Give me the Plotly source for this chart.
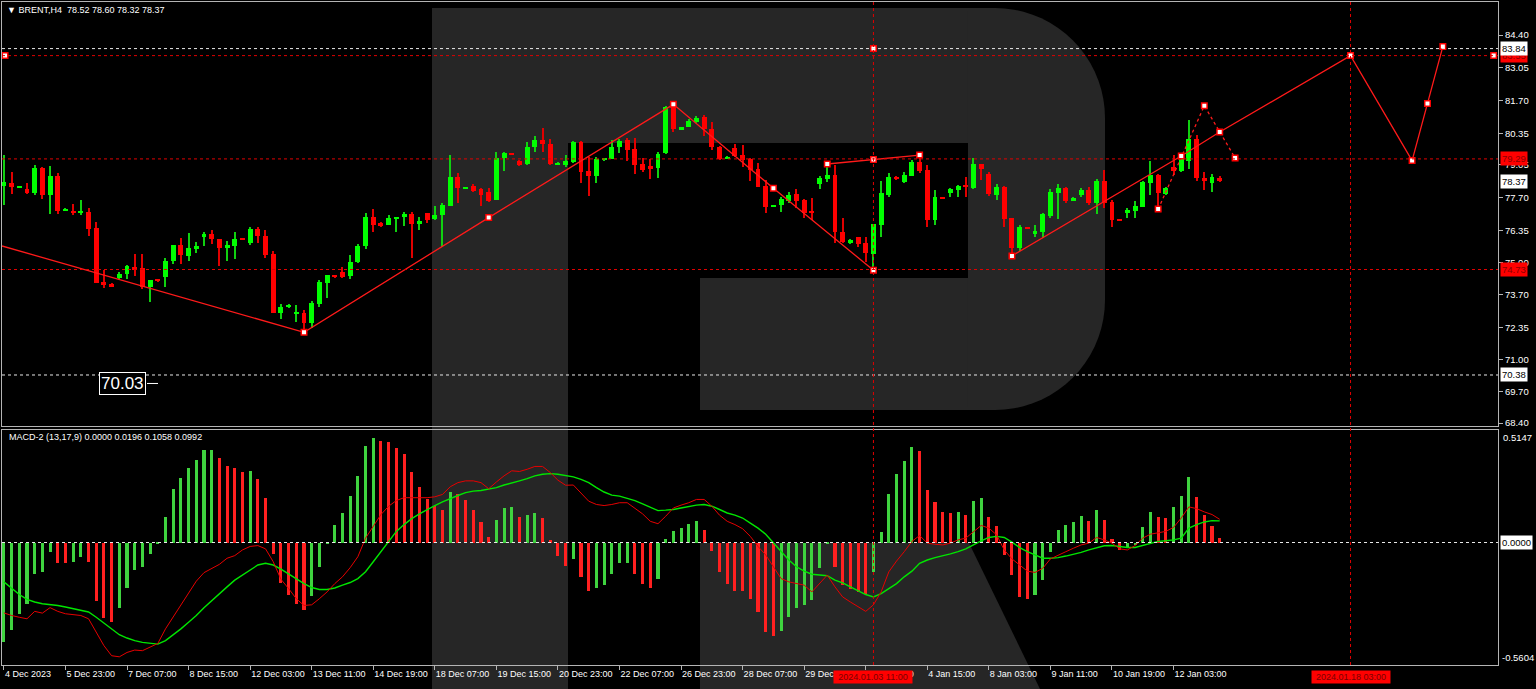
import math
import plotly.graph_objects as go

# ---------------- data ----------------
bar_index = list(range(159))
opens = [78.17,78.31,78.12,78.05,77.87,78.90,77.80,78.59,77.17,77.11,77.09,77.11,76.44,74.21,74.14,74.38,74.54,74.85,74.78,74.00,
         74.30,74.43,75.08,75.73,75.29,75.59,76.06,76.19,76.00,75.63,75.70,76.02,75.81,76.39,76.11,75.37,72.92,73.17,72.91,72.95,
         72.54,73.31,74.19,74.50,74.61,74.46,75.05,75.70,76.91,76.64,76.57,76.85,76.88,77.03,76.62,77.07,76.80,76.97,77.35,78.53,
         78.05,78.17,78.04,77.91,77.60,79.32,79.52,79.20,79.08,79.79,80.07,79.91,79.08,79.04,79.15,80.00,78.79,78.60,79.25,79.27,
         79.77,80.07,79.69,79.08,79.01,78.93,79.52,81.42,80.52,80.62,80.82,81.01,80.52,79.79,79.32,79.73,79.45,79.27,78.87,78.17,
         77.32,77.39,77.57,77.83,77.60,77.11,78.26,78.45,78.63,76.29,75.81,76.08,75.81,75.37,76.57,77.80,78.56,78.35,78.60,79.18,
         78.83,76.77,77.69,77.87,78.01,78.21,78.10,79.07,78.66,77.80,78.14,76.84,75.60,76.48,76.19,76.29,76.95,77.90,78.10,77.57,
         77.80,78.01,77.48,78.39,77.53,76.81,77.07,77.15,77.32,78.31,78.63,77.84,78.94,78.79,79.22,80.11,78.49,78.28,78.52]
highs = [79.45,78.75,78.19,78.28,79.04,78.96,79.00,78.70,77.25,77.43,77.60,77.25,76.69,74.71,74.16,74.63,74.92,75.37,75.37,74.30,
         74.31,75.22,75.73,76.02,76.24,75.88,76.26,76.36,76.00,75.92,76.28,76.04,76.48,76.49,76.36,75.49,73.31,73.31,73.27,73.06,
         73.43,74.30,74.50,74.52,74.85,75.33,75.77,77.05,77.22,76.69,76.98,76.89,77.11,77.11,76.91,77.07,77.35,77.46,79.45,78.70,
         78.12,78.24,78.10,78.10,79.59,79.59,79.55,79.25,80.00,80.24,80.55,80.10,79.15,79.45,80.02,80.02,79.38,79.38,79.34,80.07,
         80.11,80.17,80.17,79.32,79.27,79.59,81.47,81.47,80.62,80.92,81.06,81.10,80.80,79.82,79.41,79.89,79.86,79.32,79.13,78.42,
         77.41,77.71,77.91,78.05,77.64,77.67,78.59,78.97,79.04,76.84,75.98,76.08,76.08,76.61,78.39,78.70,78.59,78.76,79.25,79.45,
         79.04,78.01,77.72,78.10,78.21,78.53,79.34,79.07,78.74,78.26,78.17,76.84,76.57,76.50,76.57,77.07,78.06,78.26,78.14,77.71,
         78.08,78.14,78.45,78.83,77.60,76.83,77.25,77.55,78.39,79.22,78.67,78.14,79.45,79.41,80.89,80.28,78.76,78.67,78.60]
lows = [77.39,77.84,78.10,77.84,77.80,77.64,77.02,77.02,77.15,76.98,76.98,76.12,74.19,73.95,74.00,74.34,74.34,74.46,73.91,73.40,
        74.24,74.02,74.96,74.94,75.09,75.42,75.70,75.78,74.87,75.09,75.15,75.93,75.74,75.84,75.22,72.92,72.68,73.15,72.55,72.26,
        72.33,73.20,73.54,74.39,74.37,74.34,74.98,75.59,76.29,76.50,76.57,76.29,76.54,75.19,76.36,76.66,76.77,75.67,77.35,77.46,
        78.03,77.94,77.35,77.53,77.60,78.79,79.44,79.00,79.04,79.59,79.59,79.04,79.06,78.94,79.13,78.31,77.76,78.31,79.22,79.27,
        79.52,79.22,78.67,78.76,78.45,78.52,79.50,80.41,80.50,80.59,80.76,80.24,79.66,79.25,79.30,79.38,78.97,78.39,78.12,77.07,
        77.30,77.11,77.46,77.25,76.84,76.77,78.04,78.35,75.84,75.84,75.78,75.67,75.05,74.78,76.08,77.71,78.42,78.28,78.59,78.72,
        76.49,76.57,77.62,77.71,77.72,77.73,78.04,78.42,77.76,77.60,76.49,75.40,75.51,76.42,76.08,76.02,76.84,76.80,77.48,77.55,
        77.73,77.39,77.02,77.25,76.47,76.75,76.84,76.84,77.30,77.80,77.25,77.80,78.63,78.76,78.87,78.39,78.01,77.91,78.32]
closes = [78.34,78.12,78.17,77.87,78.90,77.80,78.59,77.15,77.22,77.09,77.13,76.40,74.19,74.09,74.02,74.56,74.87,74.71,74.00,74.30,
          74.26,75.08,75.73,75.33,75.62,75.70,76.19,75.98,75.63,75.73,76.00,75.95,76.39,76.12,75.34,72.92,73.17,73.28,72.95,72.54,
          73.36,74.23,74.50,74.41,74.43,75.05,75.71,76.88,76.57,76.54,76.87,76.89,77.01,76.62,76.73,76.77,76.98,77.39,78.53,78.08,
          78.10,77.98,77.80,77.55,79.32,79.52,79.46,79.04,79.77,80.07,79.89,79.08,79.13,79.22,80.00,78.76,78.60,79.27,79.32,79.77,
          80.04,79.66,79.04,78.83,78.87,79.49,81.44,80.51,80.59,80.87,80.99,80.51,79.77,79.27,79.38,79.41,79.25,78.83,78.14,77.32,
          77.39,77.62,77.81,77.55,77.07,77.07,78.52,78.63,76.29,75.88,75.95,75.78,75.40,76.61,77.87,78.53,78.45,78.63,79.18,78.79,
          76.77,77.71,77.64,78.04,78.19,78.14,79.07,78.87,77.83,78.12,76.81,75.60,76.49,76.44,76.33,77.01,77.91,78.10,77.57,77.68,
          78.01,77.48,78.39,77.48,76.77,76.77,77.18,77.35,78.35,78.63,77.90,78.10,78.79,79.32,80.11,78.52,78.39,78.53,78.37]

macd_hist = [-0.457,-0.400,-0.329,-0.280,-0.146,-0.134,-0.045,-0.092,-0.095,-0.091,-0.068,-0.091,-0.268,-0.346,-0.365,-0.298,-0.206,-0.126,-0.111,-0.054,
             -0.003,0.115,0.243,0.297,0.343,0.377,0.425,0.425,0.385,0.348,0.340,0.323,0.328,0.292,0.205,-0.054,-0.183,-0.242,-0.280,-0.311,
             -0.245,-0.111,-0.003,0.082,0.135,0.212,0.305,0.440,0.477,0.465,0.462,0.434,0.403,0.323,0.255,0.200,0.166,0.150,0.232,0.220,
             0.194,0.151,0.092,0.025,0.105,0.158,0.163,0.117,0.128,0.135,0.112,0.012,-0.062,-0.106,-0.075,-0.160,-0.223,-0.208,-0.195,-0.146,
             -0.095,-0.092,-0.142,-0.188,-0.208,-0.165,0.015,0.051,0.066,0.086,0.100,0.058,-0.038,-0.134,-0.188,-0.222,-0.223,-0.257,-0.318,-0.408,
             -0.429,-0.403,-0.342,-0.300,-0.288,-0.265,-0.115,-0.005,-0.111,-0.195,-0.211,-0.226,-0.234,-0.134,0.048,0.223,0.312,0.371,0.435,0.420,
             0.240,0.186,0.140,0.135,0.140,0.128,0.189,0.202,0.115,0.074,-0.057,-0.149,-0.249,-0.257,-0.242,-0.172,-0.042,0.055,0.078,0.092,
             0.123,0.100,0.149,0.105,0.015,-0.034,-0.026,-0.011,0.069,0.138,0.115,0.110,0.163,0.215,0.300,0.208,0.125,0.074,0.020]
macd_red = [-0.322,-0.334,-0.342,-0.349,-0.315,-0.323,-0.298,-0.315,-0.326,-0.331,-0.334,-0.349,-0.411,-0.472,-0.518,-0.523,-0.503,-0.492,-0.495,-0.480,
            -0.462,-0.395,-0.342,-0.288,-0.234,-0.177,-0.138,-0.118,-0.100,-0.072,-0.060,-0.034,-0.018,-0.014,-0.029,-0.088,-0.168,-0.211,-0.257,-0.288,
            -0.285,-0.257,-0.226,-0.188,-0.157,-0.115,-0.065,0.020,0.074,0.128,0.166,0.192,0.205,0.205,0.205,0.205,0.209,0.220,0.255,0.274,
            0.282,0.282,0.274,0.246,0.277,0.305,0.328,0.325,0.335,0.348,0.348,0.320,0.285,0.262,0.263,0.228,0.189,0.174,0.169,0.174,
            0.182,0.182,0.158,0.131,0.097,0.086,0.120,0.158,0.171,0.182,0.197,0.197,0.166,0.125,0.097,0.082,0.063,0.028,-0.018,-0.057,
            -0.111,-0.165,-0.180,-0.188,-0.195,-0.226,-0.188,-0.149,-0.203,-0.249,-0.272,-0.295,-0.315,-0.285,-0.226,-0.134,-0.085,-0.042,0.005,0.032,
            -0.003,-0.008,-0.011,-0.003,0.012,0.020,0.051,0.078,0.066,0.035,-0.034,-0.075,-0.103,-0.131,-0.137,-0.118,-0.075,-0.057,-0.042,-0.026,
            -0.011,-0.003,0.023,0.012,-0.003,-0.029,-0.034,-0.014,0.020,0.038,0.043,0.051,0.069,0.112,0.163,0.155,0.140,0.128,0.106]
macd_green = [-0.180,-0.211,-0.238,-0.260,-0.272,-0.280,-0.283,-0.288,-0.295,-0.303,-0.308,-0.318,-0.342,-0.368,-0.395,-0.422,-0.437,-0.449,-0.457,-0.462,
              -0.465,-0.449,-0.423,-0.395,-0.365,-0.334,-0.298,-0.265,-0.234,-0.203,-0.172,-0.149,-0.126,-0.103,-0.095,-0.103,-0.122,-0.145,-0.165,-0.188,
              -0.206,-0.215,-0.215,-0.208,-0.195,-0.183,-0.165,-0.134,-0.088,-0.042,0.005,0.051,0.082,0.109,0.131,0.151,0.169,0.186,0.202,0.215,
              0.228,0.235,0.238,0.243,0.251,0.263,0.274,0.282,0.292,0.305,0.312,0.315,0.312,0.305,0.300,0.289,0.274,0.251,0.231,0.217,
              0.212,0.202,0.192,0.177,0.162,0.146,0.148,0.151,0.158,0.165,0.171,0.174,0.166,0.151,0.135,0.125,0.112,0.089,0.066,0.038,
              -0.003,-0.042,-0.080,-0.111,-0.131,-0.145,-0.149,-0.152,-0.172,-0.185,-0.203,-0.222,-0.238,-0.249,-0.234,-0.211,-0.188,-0.157,-0.131,-0.095,
              -0.080,-0.069,-0.062,-0.052,-0.042,-0.029,-0.011,0.008,0.023,0.028,0.023,0.002,-0.023,-0.042,-0.057,-0.072,-0.072,-0.069,-0.062,-0.054,
              -0.045,-0.034,-0.023,-0.015,-0.014,-0.018,-0.023,-0.023,-0.014,-0.003,0.005,0.008,0.012,0.020,0.066,0.082,0.094,0.100,0.099]

x_tick_index = [0, 8, 16, 24, 32, 40, 48, 56, 64, 72, 80, 88, 96, 104, 112, 120, 128, 136, 144, 152]
x_tick_text = ["4 Dec 2023", "5 Dec 23:00", "7 Dec 07:00", "8 Dec 15:00", "12 Dec 03:00", "13 Dec 11:00",
               "14 Dec 19:00", "18 Dec 07:00", "19 Dec 15:00", "20 Dec 23:00", "22 Dec 07:00", "26 Dec 23:00",
               "28 Dec 07:00", "29 Dec 15:00", "3 Jan 03:00", "4 Jan 15:00", "8 Jan 03:00", "9 Jan 11:00",
               "10 Jan 19:00", "12 Jan 03:00"]
price_ticks = [84.40, 83.05, 81.70, 80.35, 79.05, 77.70, 76.35, 75.00, 73.70, 72.35, 71.00, 69.70, 68.40]
price_tick_text = ["84.40", "83.05", "81.70", "80.35", "79.05", "77.70", "76.35", "75.00", "73.70", "72.35", "71.00", "69.70", "68.40"]
macd_max, macd_min = 0.5147, -0.5604

# analysis objects
zigzag_x = [-0.25, 39, 63, 87, 100, 113]
zigzag_y = [75.70, 72.14, 76.87, 81.54, 78.08, 74.70]
flat_x = [107, 113, 119]
flat_y = [79.08, 79.27, 79.45]
forecast_x = [131, 153, 158, 175, 183, 185, 187]
forecast_y = [75.29, 79.41, 80.40, 83.55, 79.22, 81.58, 83.93]
dotted_x = [150, 156, 160]
dotted_y = [77.22, 81.48, 79.33]
extra_pts_x = [113, 0.15, 193.6]
extra_pts_y = [83.84, 83.55, 83.55]

red_levels = [83.55, 79.29, 74.73]
red_level_text = ["83.55", "79.29", "74.73"]
white_levels = [83.84, 70.38]
white_level_text = ["83.84", "70.38"]
last_price = 78.37
v_lines = [113, 175]
v_line_text = ["2024.01.03 11:00", "2024.01.18 03:00"]
price_label_value = 70.03

# ---------------- geometry helpers (pixels -> paper) ----------------
W, H = 1536, 689
L_PX, R_PX, T_PX, B_PX = 2, 1498, 2, 665
MAIN_BOT, MACD_TOP = 426, 430
PW, PH = R_PX - L_PX, B_PX - T_PX


def px(x):
    return (x - L_PX) / PW


def py(y):
    return (B_PX - y) / PH


BAR_X0, BAR_DX = 3.9, 7.695
x_range = [(L_PX - BAR_X0) / BAR_DX, (R_PX - BAR_X0) / BAR_DX]
P_PER_PX = 24.25
y_range = [84.40 - (MAIN_BOT - 35) / P_PER_PX, 84.40 + (35 - T_PX) / P_PER_PX]

GREEN, RED = "#00ff00", "#ff0000"
FONT = "Liberation Sans"
FS = 9

fig = go.Figure()

# candles: wicks then bodies
cand_col = [GREEN if c >= o else RED for o, c in zip(opens, closes)]
wick_col = ["#10d010" if c >= o else "#e00000" for o, c in zip(opens, closes)]
fig.add_trace(go.Bar(x=bar_index, y=[h - l for h, l in zip(highs, lows)], base=lows, width=0.14,
                     marker=dict(color=wick_col, line=dict(width=0)), xaxis="x", yaxis="y", showlegend=False))
fig.add_trace(go.Bar(x=bar_index, y=[max(abs(c - o), 0.035) for o, c in zip(opens, closes)],
                     base=[min(o, c) for o, c in zip(opens, closes)], width=0.64,
                     marker=dict(color=cand_col, line=dict(width=0)), xaxis="x", yaxis="y", showlegend=False))

# zigzag / analysis lines
LINE_RED = "#ff1a1a"
for xs, ys, dash in [(zigzag_x, zigzag_y, "solid"), (flat_x, flat_y, "solid"),
                     (forecast_x, forecast_y, "solid"), (dotted_x, dotted_y, "dot")]:
    fig.add_trace(go.Scatter(x=xs, y=ys, mode="lines", line=dict(color=LINE_RED, width=1.3, dash=dash),
                             xaxis="x", yaxis="y", showlegend=False, hoverinfo="skip"))
mk_x = zigzag_x[1:] + flat_x + forecast_x + dotted_x + extra_pts_x
mk_y = zigzag_y[1:] + flat_y + forecast_y + dotted_y + extra_pts_y
fig.add_trace(go.Scatter(x=mk_x, y=mk_y, mode="markers",
                         marker=dict(symbol="square", size=5.5, color="white", line=dict(color="#ff0000", width=1.5)),
                         xaxis="x", yaxis="y", showlegend=False, hoverinfo="skip"))

# MACD pane
hist_col = ["#3fd33f" if (i == 0 or v >= macd_hist[i - 1]) else "#ff2020" for i, v in enumerate(macd_hist)]
fig.add_trace(go.Bar(x=bar_index, y=macd_hist, width=0.4, marker=dict(color=hist_col, line=dict(width=0)),
                     xaxis="x2", yaxis="y2", showlegend=False))
fig.add_trace(go.Scatter(x=bar_index, y=macd_green, mode="lines", line=dict(color="#00e600", width=1.4),
                         xaxis="x2", yaxis="y2", showlegend=False))
fig.add_trace(go.Scatter(x=bar_index, y=macd_red, mode="lines", line=dict(color="#e60000", width=1),
                         xaxis="x2", yaxis="y2", showlegend=False))

shapes = []
# watermark "R" (decoration, pixel geometry)
WM = "#262626"


def rect(x0, y0, x1, y1):
    return dict(type="rect", xref="paper", yref="paper", x0=px(x0), x1=px(x1), y0=py(y1), y1=py(y0),
                fillcolor=WM, line=dict(width=0), layer="below")


def path(points):
    d = "M " + " L ".join(f"{px(a):.5f},{py(b):.5f}" for a, b in points) + " Z"
    return dict(type="path", xref="paper", yref="paper", path=d, fillcolor=WM, line=dict(width=0), layer="below")


shapes += [rect(432, 8, 568, 689), rect(568, 8, 968, 143), rect(700, 278, 968, 410)]
pts = [(968, 8)]
cx1, cy1, r = 995, 118, 110
for k in range(0, 19):
    a = -math.pi / 2 + k * (math.pi / 2) / 18
    pts.append((cx1 + r * math.cos(a), cy1 + r * math.sin(a)))
cy2 = 300
for k in range(0, 19):
    a = 0 + k * (math.pi / 2) / 18
    pts.append((cx1 + r * math.cos(a), cy2 + r * math.sin(a)))
pts.append((968, 410))
shapes.append(path(pts))
shapes.append(path([(700, 543), (969, 543), (1040, 689), (700, 689)]))

# horizontal levels
for lv in red_levels:
    shapes.append(dict(type="line", xref="paper", yref="y", x0=0, x1=1, y0=lv, y1=lv,
                       line=dict(color="#e00000", width=1, dash="3px,3px")))
for lv in white_levels:
    shapes.append(dict(type="line", xref="paper", yref="y", x0=0, x1=1, y0=lv, y1=lv,
                       line=dict(color="#e8e8e8", width=1, dash="3px,3px")))
shapes.append(dict(type="line", xref="paper", yref="y2", x0=0, x1=1, y0=0, y1=0,
                   line=dict(color="#e8e8e8", width=1, dash="3px,3px")))
for vx in v_lines:
    shapes.append(dict(type="line", xref="x", yref="paper", x0=vx, x1=vx, y0=0, y1=1,
                       line=dict(color="#e00000", width=1, dash="3px,3px")))
shapes.append(dict(type="line", xref="paper", yref="y", x0=px(147), x1=px(158), y0=price_label_value,
                   y1=price_label_value, line=dict(color="white", width=1)))

ann = []
ann.append(dict(text="▼ BRENT,H4  78.52 78.60 78.32 78.37", xref="paper", yref="paper", x=px(5), y=py(10),
                xanchor="left", yanchor="middle", showarrow=False, font=dict(color="white", size=FS, family=FONT)))
ann.append(dict(text="MACD-2 (13,17,9) 0.0000 0.0196 0.1058 0.0992", xref="paper", yref="paper", x=px(7), y=py(437),
                xanchor="left", yanchor="middle", showarrow=False, font=dict(color="white", size=FS, family=FONT)))
ann.append(dict(text=f"{price_label_value:.2f}", xref="paper", yref="y", x=px(122), y=price_label_value,
                xanchor="center", yanchor="middle", showarrow=False, bgcolor="black", bordercolor="white",
                borderwidth=1, borderpad=1, font=dict(color="white", size=17, family=FONT)))
axis_x = px(1500)
for lv, t in zip(red_levels, red_level_text):
    ann.append(dict(text=t, xref="paper", yref="y", x=axis_x, y=lv, xanchor="left", yanchor="middle",
                    showarrow=False, bgcolor="#ff0000", borderpad=1, font=dict(color="#8a0000", size=FS + 0.5, family=FONT)))
for lv, t in zip(white_levels + [last_price], white_level_text + [f"{last_price:.2f}"]):
    ann.append(dict(text=t, xref="paper", yref="y", x=axis_x, y=lv, xanchor="left", yanchor="middle",
                    showarrow=False, bgcolor="white", borderpad=1, font=dict(color="black", size=FS + 0.5, family=FONT)))
ann.append(dict(text="0.0000", xref="paper", yref="y2", x=axis_x, y=0, xanchor="left", yanchor="middle",
                showarrow=False, bgcolor="white", borderpad=1, font=dict(color="black", size=FS + 0.5, family=FONT)))
ann.append(dict(text=f"{macd_max:.4f}", xref="paper", yref="y2", x=px(1501), y=macd_max, xanchor="left",
                yanchor="top", showarrow=False, font=dict(color="white", size=FS + 0.5, family=FONT)))
ann.append(dict(text=f"{macd_min:.4f}", xref="paper", yref="y2", x=px(1500), y=macd_min, xanchor="left",
                yanchor="bottom", showarrow=False, font=dict(color="white", size=FS + 0.5, family=FONT)))
for vx, t in zip(v_lines, v_line_text):
    ann.append(dict(text=t, xref="x2", yref="paper", x=vx, y=py(677), xanchor="center", yanchor="middle",
                    width=76, showarrow=False, bgcolor="#ff0000", borderpad=1,
                    font=dict(color="#7a0000", size=FS, family=FONT)))

AX_LINE = "#b4b4b4"
fig.update_layout(
    width=W, height=H,
    margin=dict(l=L_PX, r=W - R_PX, t=T_PX, b=H - B_PX, pad=0, autoexpand=False),
    paper_bgcolor="black", plot_bgcolor="black",
    barmode="overlay", bargap=0, showlegend=False,
    shapes=shapes, annotations=ann,
    xaxis=dict(domain=[0, 1], range=x_range, anchor="y", showticklabels=False, ticks="", showgrid=False,
               zeroline=False, showline=True, mirror=True, linecolor=AX_LINE, linewidth=1),
    yaxis=dict(domain=[py(MAIN_BOT), 1], range=y_range, side="right", anchor="x", tickvals=price_ticks,
               ticktext=price_tick_text, ticks="outside", ticklen=4, tickcolor=AX_LINE, showgrid=False,
               zeroline=False, showline=True, mirror=True, linecolor=AX_LINE, linewidth=1, automargin=False,
               tickfont=dict(color="white", size=FS + 0.5, family=FONT)),
    xaxis2=dict(domain=[0, 1], range=x_range, anchor="y2", matches="x", tickvals=x_tick_index, ticktext=x_tick_text,
                ticks="outside", ticklen=4, tickcolor=AX_LINE, ticklabelposition="outside right", tickangle=0,
                showgrid=False, zeroline=False, showline=True, mirror=True, linecolor=AX_LINE, linewidth=1,
                automargin=False, tickfont=dict(color="white", size=FS, family=FONT)),
    yaxis2=dict(domain=[0, py(MACD_TOP)], range=[macd_min, macd_max], side="right", anchor="x2",
                showticklabels=False, ticks="", showgrid=False, zeroline=False, showline=True, mirror=True,
                linecolor=AX_LINE, linewidth=1),
)

fig.write_html("out.html", config={"displayModeBar": False},
               post_script="document.body.style.margin='0';document.body.style.overflow='hidden';")
